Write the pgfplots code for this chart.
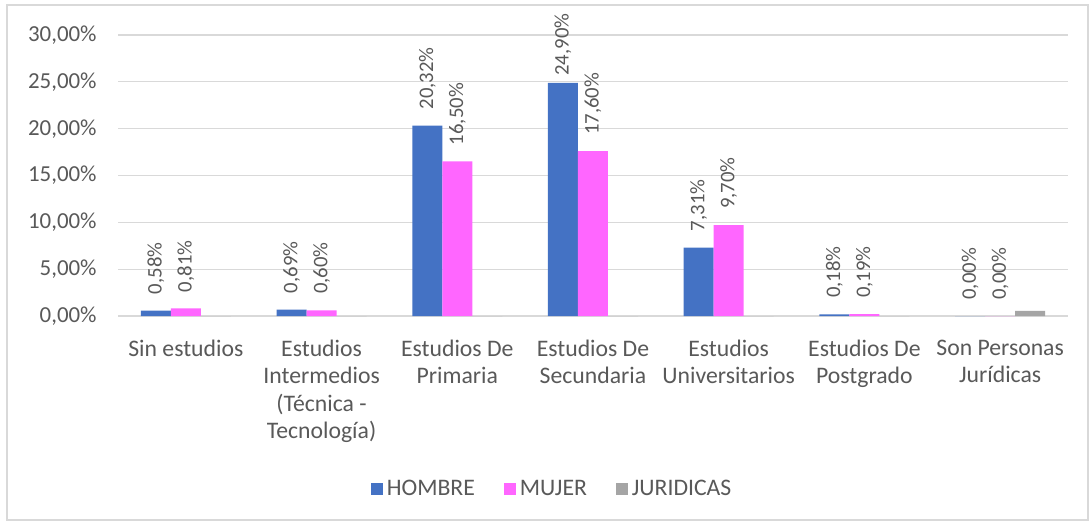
\documentclass[border=0pt]{standalone}
\usepackage{fontspec}
\setmainfont{Carlito}
\usepackage{pgfplots}
\pgfplotsset{compat=1.18}

\definecolor{hombre}{HTML}{4472C4}
\definecolor{mujer}{HTML}{FF66FF}
\definecolor{juridicas}{HTML}{A5A5A5}
\definecolor{gridgray}{HTML}{D9D9D9}
\definecolor{txt}{HTML}{595959}

\pgfplotstableread{
x hombre mujer juridicas
0 0.58  0.81  0
1 0.69  0.60  0
2 20.32 16.50 0
3 24.90 17.60 0
4 7.31  9.70  0
5 0.18  0.19  0
6 0.00  0.00  0.55
}\datos

% data label: 8bp above the bar, pushed down near the top of the chart
\pgfplotsset{
  etiqueta/.style={
    visualization depends on={\thisrow{#1} \as \rawy},
    nodes near coords={\pgfmathprintnumber[fixed,fixed zerofill,precision=2,use comma,assume math mode=true]{\pgfplotspointmeta}\%},
    every node near coord/.append style={yshift={1.00375*min(8,120-\rawy*4.683)},
      rotate=90, anchor=west, inner sep=0pt, text=txt,
      font=\fontsize{10.4}{12}\selectfont},
  },
}

\begin{document}
\begin{tikzpicture}[font=\fontsize{11.5}{13.5}\selectfont]
\fill[white] (0,0) rectangle (545.5bp,262bp);
\draw[gridgray,line width=0.6bp] (3.5bp,2bp) rectangle (544bp,259.5bp);
\begin{axis}[
  at={(59bp,104bp)}, anchor=south west,
  scale only axis,
  width=475bp, height=140.5bp,
  ybar=0pt, bar width=15bp,
  xmin=-0.5, xmax=6.5,
  ymin=0, ymax=30,
  ytick={0,5,...,30},
  xtick=data,
  xticklabels={{Sin estudios},{Estudios\\Intermedios\\(Técnica -\\Tecnología)},{Estudios De\\Primaria},{Estudios De\\Secundaria},{Estudios\\Universitarios},{Estudios De\\Postgrado},{Son Personas\\Jurídicas}},
  xticklabel style={align=center, text=txt, inner sep=0pt, yshift=-12bp, font=\fontsize{11.9}{13.6}\selectfont},
  yticklabel={\pgfmathprintnumber[fixed,fixed zerofill,precision=2,use comma,assume math mode=true]{\tick}\%},
  yticklabel style={text=txt, inner xsep=0pt, xshift=-10.5bp},
  major tick length=0pt,
  axis line style={draw=none},
  ymajorgrids, grid style={gridgray, line width=0.6bp},
  clip=false,
  legend style={at={(0.458,-0.616)}, anchor=center, draw=none, fill=none,
    legend columns=3, text=txt, font=\fontsize{11.9}{13.6}\selectfont,
    /tikz/every even column/.append style={column sep=12.5bp}},
  legend image code/.code={\fill[#1] (0bp,-3bp) rectangle (6bp,3bp);},
]
\addplot[fill=hombre, draw=none, etiqueta=hombre] table[x=x, y=hombre] {\datos};
\addplot[fill=mujer, draw=none, etiqueta=mujer] table[x=x, y=mujer] {\datos};
\addplot[fill=juridicas, draw=none] table[x=x, y=juridicas] {\datos};
\legend{HOMBRE, MUJER, JURIDICAS}
\end{axis}
\pgfresetboundingbox
\path[use as bounding box] (0,0) rectangle (545.5bp,262bp);
\end{tikzpicture}
\end{document}
